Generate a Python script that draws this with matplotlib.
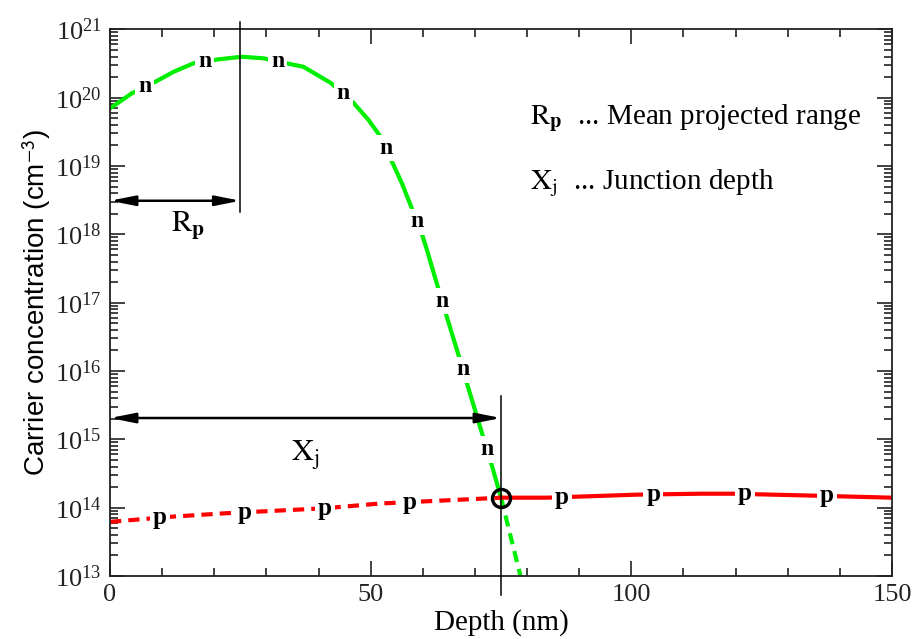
import numpy as np
import matplotlib
matplotlib.use("Agg")
import matplotlib.pyplot as plt
from matplotlib.ticker import FixedLocator, LogFormatterMathtext, NullFormatter

plt.rcParams['font.family'] = ['Liberation Serif', 'DejaVu Serif']
plt.rcParams['mathtext.fontset'] = 'stix'

# ---- data ----
n_depth = [0, 4.2, 8.7, 12.2, 16.0, 20.8, 25.3, 29.5, 34.6, 37.1, 42.3, 46.7, 49.6, 51.9,
           54.1, 56.0, 57.9, 59.9, 60.8, 62.3, 64.3, 67.1, 68.7, 71.4, 73.3, 75.0, 78.6, 79.6]
n_conc = [6.97e19, 1.16e20, 1.71e20, 2.39e20, 3.18e20, 3.64e20, 3.97e20, 3.76e20, 3.10e20,
          2.83e20, 1.65e20, 8.4e19, 4.7e19, 2.68e19, 1.15e19, 5.56e18, 2.39e18, 9.7e17,
          5.9e17, 2.4e17, 7.4e16, 1.48e16, 5.75e15, 1.2e15, 4.0e14, 1.4e14, 1.1e13, 6.0e12]
p_depth = [0, 12.1, 22.4, 41.2, 51.8, 73.5, 75.0, 83.8, 101.1, 113.2, 119.5, 134.9, 150]
p_conc = [6.2e13, 7.4e13, 8.3e13, 9.8e13, 1.15e14, 1.38e14, 1.4e14, 1.4e14, 1.55e14,
          1.6e14, 1.6e14, 1.5e14, 1.4e14]
n_label_depth = [6.7, 18.2, 32.2, 44.7, 52.9, 58.9, 63.7, 67.7, 72.3]
p_label_depth = [9.6, 25.9, 41.2, 57.5, 86.7, 104.2, 121.8, 137.5]
junction_depth = 75.0
junction_conc = 1.4e14
rp_depth = 25.0
rp_arrow_y = 3.1e18
xj_arrow_y = 2.05e15
x_ticks = [0, 50, 100, 150]
x_minor_ticks = [10, 20, 30, 40, 60, 70, 80, 90, 110, 120, 130, 140]
y_ticks = [1e13, 1e14, 1e15, 1e16, 1e17, 1e18, 1e19, 1e20, 1e21]

# ---- figure ----
fig = plt.figure(figsize=(9.13, 6.39), dpi=100)
ax = fig.add_axes([0.1205, 0.0986, 0.977 - 0.1205, 0.9541 - 0.0986])
ax.set_yscale('log')
ax.set_xlim(0, 150)
ax.set_ylim(1e13, 1e21)

nd = np.array(n_depth); nc = np.array(n_conc)
pd_ = np.array(p_depth); pc = np.array(p_conc)

green = '#00ee00'
red = '#ff0000'
lw = 3.0
m = nd <= junction_depth
ax.plot(nd[m], nc[m], color=green, lw=lw, solid_capstyle='butt', solid_joinstyle='round', zorder=2)
m2 = nd >= junction_depth
ax.plot(nd[m2], nc[m2], color=green, lw=lw, linestyle=(0, (2.7, 1.7)), zorder=2)
m = pd_ <= junction_depth
ax.plot(pd_[m], pc[m], color=red, lw=lw, linestyle=(0, (2.7, 1.7)), zorder=2)
m2 = pd_ >= junction_depth
ax.plot(pd_[m2], pc[m2], color=red, lw=lw, zorder=2)

# curve labels
log_n = np.log10(nc)
for x in n_label_depth:
    y = 10 ** np.interp(x, nd, log_n)
    ax.text(x, y, 'n', fontsize=17, fontweight='bold', ha='center', va='center',
            bbox=dict(facecolor='white', edgecolor='none', pad=2.0), zorder=3)
log_p = np.log10(pc)
for x in p_label_depth:
    y = 10 ** np.interp(x, pd_, log_p)
    ax.text(x, y, 'p', fontsize=18, fontweight='bold', ha='center', va='center',
            bbox=dict(facecolor='white', edgecolor='none', pad=2.0), zorder=3)

# junction circle
ax.plot([junction_depth], [junction_conc], marker='o', ms=13, mfc='none', mec='black',
        mew=2.4, zorder=5)

# vertical marker lines
ax.plot([rp_depth, rp_depth], [10 ** 21.1, 10 ** 18.32], color='black', lw=1.1,
        clip_on=False, zorder=4)
ax.plot([junction_depth, junction_depth], [10 ** 15.64, 10 ** 12.72], color='black', lw=1.1,
        clip_on=False, zorder=4)

# arrows
ap = dict(arrowstyle='<|-|>,head_length=1.5,head_width=0.3', color='black', lw=1.8,
          shrinkA=0, shrinkB=0)
ax.annotate('', xy=(0, rp_arrow_y), xytext=(rp_depth, rp_arrow_y), arrowprops=ap, zorder=4)
ax.annotate('', xy=(0, xj_arrow_y), xytext=(junction_depth, xj_arrow_y), arrowprops=ap, zorder=4)

ax.text(15.0, 10 ** 18.13, r'$\mathrm{R}_{\mathbf{p}}$', fontsize=22, ha='center', va='center')
ax.text(37.4, 10 ** 14.77, r'$\mathrm{X}_{\mathrm{j}}$', fontsize=22, ha='center', va='center')

ax.text(80.6, 10 ** 19.70, r'$\mathrm{R}_{\mathbf{p}}$  ... Mean projected range', fontsize=21,
        ha='left', va='center')
ax.text(80.6, 10 ** 18.75, r'$\mathrm{X}_{\mathrm{j}}$  ... Junction depth', fontsize=21,
        ha='left', va='center')

# axes styling
ax.xaxis.set_major_locator(FixedLocator(x_ticks))
ax.xaxis.set_minor_locator(FixedLocator(x_minor_ticks))
y_minor = [k * t for t in y_ticks[:-1] for k in range(2, 10)]
ax.yaxis.set_major_locator(FixedLocator(y_ticks))
ax.yaxis.set_minor_locator(FixedLocator(y_minor))
ax.yaxis.set_major_formatter(LogFormatterMathtext())
ax.yaxis.set_minor_formatter(NullFormatter())
ax.xaxis.set_minor_formatter(NullFormatter())
ax.tick_params(which='both', direction='in', top=True, right=True, width=1.2, colors='#222222')
ax.tick_params(which='major', length=11, labelsize=19, pad=6)
ax.tick_params(which='minor', length=5.5)
for s in ax.spines.values():
    s.set_linewidth(1.3)
    s.set_color('#222222')

ax.set_xlabel('Depth (nm)', fontsize=21, labelpad=2)
ax.set_ylabel(r'Carrier concentration (cm$^{\mathsf{-3}}$)', fontsize=20,
              family=['Liberation Sans', 'DejaVu Sans'], labelpad=1)

fig.savefig('out.png', dpi=100)
